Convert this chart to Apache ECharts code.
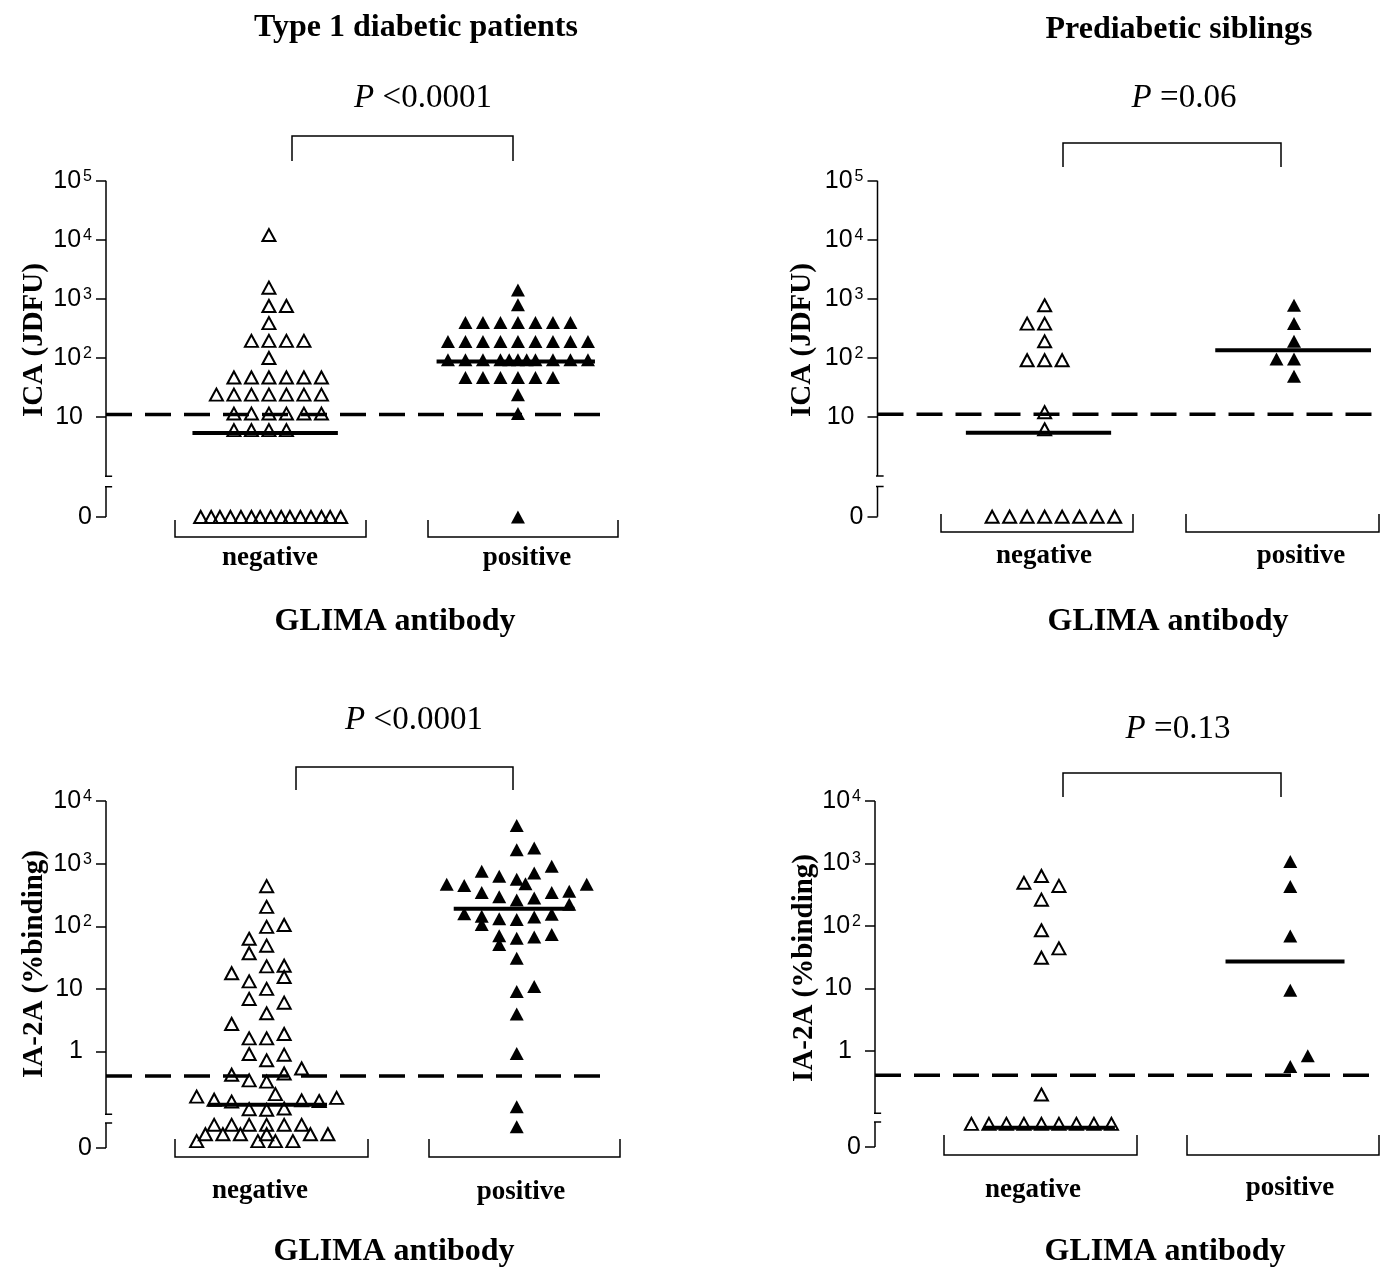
<!DOCTYPE html>
<html>
<head>
<meta charset="utf-8">
<script src="https://cdn.jsdelivr.net/npm/echarts@6/dist/echarts.min.js"></script>
<style>
  html, body { margin: 0; padding: 0; background: #fff; }
  #chart { width: 1381px; height: 1268px; }
</style>
</head>
<body>
<div id="chart"></div>
<script>
// y values are in axis units (log10 of the value); the "0" row sits below the axis break
// x values are column offsets inside each group (one column = one symbol width)
var ICA0 = -0.69, ICA_BRK = -0.18;
var IA0 = -1.54, IA_BRK = -1.14;

var icaTickValues = [ICA0, 1, 2, 3, 4, 5];
var icaTickLabels = ['0', '{p|10}', '{b|10}{s|2}', '{b|10}{s|3}', '{b|10}{s|4}', '{b|10}{s|5}'];
var ia2aTickValues = [IA0, 0, 1, 2, 3, 4];
var ia2aTickLabels = ['0', '{p|1}', '{p|10}', '{b|10}{s|2}', '{b|10}{s|3}', '{b|10}{s|4}'];

// Type 1 diabetic patients, ICA
var icaT1Neg = [
  [0,4.08],[0,3.19],[0,2.88],[1,2.88],[0,2.59],
  [-1,2.29],[0,2.29],[1,2.29],[2,2.29],[0,2.0],
  [-2,1.67],[-1,1.67],[0,1.67],[1,1.67],[2,1.67],[3,1.67],
  [-3,1.38],[-2,1.38],[-1,1.38],[0,1.38],[1,1.38],[2,1.38],[3,1.38],
  [-2,1.06],[-1,1.06],[0,1.06],[1,1.06],[2,1.06],[3,1.06],
  [-2,0.78],[-1,0.78],[0,0.78],[1,0.78],
  [-3.9,ICA0],[-3.3,ICA0],[-2.8,ICA0],[-2.2,ICA0],[-1.6,ICA0],[-1.0,ICA0],[-0.5,ICA0],[0.1,ICA0],
  [0.7,ICA0],[1.2,ICA0],[1.8,ICA0],[2.4,ICA0],[3.0,ICA0],[3.5,ICA0],[4.1,ICA0]
];
var icaT1Pos = [
  [0,3.15],[0,2.9],
  [-3,2.6],[-2,2.6],[-1,2.6],[0,2.6],[1,2.6],[2,2.6],[3,2.6],
  [-4,2.28],[-3,2.28],[-2,2.28],[-1,2.28],[0,2.28],[1,2.28],[2,2.28],[3,2.28],[4,2.28],
  [-4,1.97],[-3,1.97],[-2,1.97],[-1,1.97],[-0.5,1.97],[0,1.97],[0.5,1.97],[1,1.97],[2,1.97],[3,1.97],[4,1.97],
  [-3,1.67],[-2,1.67],[-1,1.67],[0,1.67],[1,1.67],[2,1.67],
  [0,1.38],[0,1.06],[0,ICA0]
];
// Prediabetic siblings, ICA
var icaSibNeg = [
  [0,2.89],[-1,2.58],[0,2.58],[0,2.28],[-1,1.96],[0,1.96],[1,1.96],[0,1.08],[0,0.79],
  [-3,ICA0],[-2,ICA0],[-1,ICA0],[0,ICA0],[1,ICA0],[2,ICA0],[3,ICA0],[4,ICA0]
];
var icaSibPos = [[0,2.89],[0,2.58],[0,2.28],[-1,1.98],[0,1.98],[0,1.69]];

// Type 1 diabetic patients, IA-2A
var ia2aT1Neg = [
  [0,2.64],[0,2.31],[0,1.99],[1,2.02],[-1,1.80],[0,1.69],[-1,1.57],[0,1.36],[1,1.37],
  [-2,1.25],[1,1.19],[-1,1.12],[0,1.0],[-1,0.84],[1,0.78],[0,0.61],[-2,0.44],
  [-1,0.21],[0,0.21],[1,0.28],[-1,-0.04],[0,-0.14],[1,-0.05],
  [-2,-0.37],[-1,-0.46],[0,-0.48],[1,-0.35],[2,-0.27],
  [-4,-0.72],[-3,-0.77],[-2,-0.80],[0.5,-0.68],[2,-0.78],[3,-0.79],[4,-0.74],
  [-1,-0.92],[0,-0.93],[1,-0.91],
  [-3,-1.17],[-2,-1.17],[-1,-1.17],[0,-1.17],[1,-1.17],[2,-1.17],
  [-3.5,-1.32],[-2.5,-1.32],[-1.5,-1.32],[0,-1.32],[2.5,-1.32],[3.5,-1.32],
  [-4,-1.43],[-0.5,-1.43],[0.5,-1.43],[1.5,-1.43],
  [-3,-1.55],[-2,-1.55],[-1,-1.55],[0,-1.55],[1,-1.55],[2,-1.55],[3,-1.55],[4,-1.55]
];
var ia2aT1Pos = [
  [0,3.61],[0,3.22],[1,3.25],[2,2.96],[-2,2.88],[-1,2.8],[0,2.75],[0.5,2.68],[1,2.85],
  [-4,2.67],[-3,2.65],[4,2.67],
  [-2,2.54],[-1,2.47],[0,2.42],[1,2.45],[2,2.54],[3,2.56],[3,2.35],
  [-3,2.2],[-2,2.16],[-2,2.03],[-1,2.12],[0,2.11],[1,2.15],[2,2.19],
  [-1,1.85],[0,1.81],[1,1.83],[2,1.87],[-1,1.71],
  [0,1.49],[0,0.96],[1,1.04],[0,0.6],[0,-0.03],[0,-0.88],[0,-1.2]
];
// Prediabetic siblings, IA-2A
var ia2aSibNeg = [
  [-1,2.69],[0,2.8],[1,2.64],[0,2.42],[0,1.93],[1,1.64],[0,1.49],[0,-0.7],
  [-4,-1.17],[-3,-1.17],[-2,-1.17],[-1,-1.17],[0,-1.17],[1,-1.17],[2,-1.17],[3,-1.17],[4,-1.17]
];
var ia2aSibPos = [[0,3.03],[0,2.63],[0,1.84],[0,0.97],[1,-0.08],[0,-0.25]];

// medians [negative, positive] and positivity cut-offs
var icaT1Median = [0.73, 1.94];
var icaSibMedian = [0.73, 2.13];
var ia2aT1Median = [-0.85, 2.28];
var ia2aSibMedian = [-1.23, 1.43];
var icaCutoff = 1.045;
var ia2aCutoff = -0.39;

var COL = 17.5; // px per column

var panels = [
  { grid: {left: 106, top: 180.7, width: 525, height: 336.3}, yMin: ICA0, yMax: 5, brk: ICA_BRK, low: 0,
    ticks: icaTickValues, labels: icaTickLabels, neg: icaT1Neg, pos: icaT1Pos, negC: 9.31, posC: 23.54,
    median: icaT1Median, negSpan: [-4.37, 3.94], posSpan: [-4.65, 4.4], cutoff: icaCutoff, cutEnd: 28.6 },
  { grid: {left: 877.5, top: 180.7, width: 502, height: 336}, yMin: ICA0, yMax: 5, brk: ICA_BRK, low: 0,
    ticks: icaTickValues, labels: icaTickLabels, neg: icaSibNeg, pos: icaSibPos, negC: 9.55, posC: 23.8,
    median: icaSibMedian, negSpan: [-4.5, 3.8], posSpan: [-4.5, 4.4], cutoff: icaCutoff, cutEnd: 28.7 },
  { grid: {left: 106, top: 801, width: 525, height: 347}, yMin: IA0, yMax: 4, brk: IA_BRK, low: -1,
    ticks: ia2aTickValues, labels: ia2aTickLabels, neg: ia2aT1Neg, pos: ia2aT1Pos, negC: 9.18, posC: 23.47,
    median: ia2aT1Median, negSpan: [-3.35, 3.45], posSpan: [-3.6, 3.3], cutoff: ia2aCutoff, cutEnd: 28.3 },
  { grid: {left: 875, top: 801, width: 502, height: 346}, yMin: IA0, yMax: 4, brk: IA_BRK, low: -1,
    ticks: ia2aTickValues, labels: ia2aTickLabels, neg: ia2aSibNeg, pos: ia2aSibPos, negC: 9.51, posC: 23.73,
    median: ia2aSibMedian, negSpan: [-3.3, 4.2], posSpan: [-3.7, 3.1], cutoff: ia2aCutoff, cutEnd: 28.5 }
];

var chartDom = document.getElementById('chart');
var myChart = echarts.init(chartDom);

var grids = [], xAxes = [], yAxes = [], series = [];

function seg(i, pts, width, type, z) {
  return {
    type: 'line', xAxisIndex: i, yAxisIndex: i, data: pts, symbol: 'none', silent: true, clip: false,
    lineStyle: {color: '#000', width: width, type: type || 'solid'}, z: z || 3
  };
}

panels.forEach(function (p, i) {
  grids.push(p.grid);
  xAxes.push({type: 'value', gridIndex: i, min: 0, max: p.grid.width / COL, show: false});
  yAxes.push({
    type: 'value', gridIndex: i, min: p.yMin, max: p.yMax,
    axisLine: {show: false},
    splitLine: {show: false},
    axisTick: {show: true, customValues: p.ticks, length: 10, lineStyle: {color: '#000', width: 1.5}},
    axisLabel: {
      customValues: p.ticks, margin: 14, color: '#000', fontSize: 25, fontFamily: 'Liberation Sans',
      formatter: function (v) {
        for (var k = 0; k < p.ticks.length; k++) {
          if (Math.abs(p.ticks[k] - v) < 1e-6) return p.labels[k];
        }
        return '';
      },
      rich: {
        b: {fontSize: 25, fontFamily: 'Liberation Sans', color: '#000'},
        p: {fontSize: 25, fontFamily: 'Liberation Sans', color: '#000', padding: [0, 9, 0, 0]},
        s: {fontSize: 16, fontFamily: 'Liberation Sans', color: '#000', verticalAlign: 'top', padding: [0, 0, 0, 2]}
      }
    }
  });

  // scatter groups
  series.push({
    type: 'scatter', xAxisIndex: i, yAxisIndex: i, symbol: 'triangle', symbolSize: [13, 12], silent: true,
    itemStyle: {color: 'rgba(0,0,0,0)', borderColor: '#000', borderWidth: 2, opacity: 1},
    data: p.neg.map(function (d) { return [p.negC + d[0], d[1]]; }), z: 2
  });
  series.push({
    type: 'scatter', xAxisIndex: i, yAxisIndex: i, symbol: 'triangle', symbolSize: [14, 13], silent: true,
    itemStyle: {color: '#000', opacity: 1},
    data: p.pos.map(function (d) { return [p.posC + d[0], d[1]]; }), z: 2
  });

  // broken y axis line with caps
  series.push(seg(i, [[0, p.yMax], [0, p.low]], 1.5));
  series.push(seg(i, [[0, p.brk], [0, p.yMin]], 1.5));
  series.push(seg(i, [[-0.3, p.low], [0.35, p.low]], 1.5));
  series.push(seg(i, [[-0.3, p.brk], [0.35, p.brk]], 1.5));

  // cut-off and medians
  series.push(seg(i, [[0, p.cutoff], [p.cutEnd, p.cutoff]], 3.5, [26, 13], 4));
  series.push(seg(i, [[p.negC + p.negSpan[0], p.median[0]], [p.negC + p.negSpan[1], p.median[0]]], 4, 'solid', 4));
  series.push(seg(i, [[p.posC + p.posSpan[0], p.median[1]], [p.posC + p.posSpan[1], p.median[1]]], 4, 'solid', 4));
});

// ---- annotations ----
var SERIF = '"Liberation Serif", "Times New Roman", serif';
function txt(x, y, text, size, bold, rot) {
  return {
    type: 'text', x: x, y: y, rotation: rot || 0, silent: true,
    style: {
      text: text, fontSize: size, fontWeight: bold ? 'bold' : 'normal', fontFamily: SERIF, fill: '#000',
      align: 'center', verticalAlign: 'middle', textAlign: 'center', textVerticalAlign: 'middle'
    }
  };
}
function ptxt(x, y, text) {
  return {
    type: 'text', x: x, y: y, silent: true,
    style: {
      text: '{i|P} ' + text, fontSize: 33, fontFamily: SERIF, fill: '#000',
      align: 'center', verticalAlign: 'middle', textAlign: 'center', textVerticalAlign: 'middle',
      rich: {i: {fontSize: 33, fontFamily: SERIF, fontStyle: 'italic', fill: '#000'}}
    }
  };
}
function bracket(x1, x2, yTop, yBot, legsUp) {
  var pts = legsUp
    ? [[x1, yTop], [x1, yBot], [x2, yBot], [x2, yTop]]
    : [[x1, yBot], [x1, yTop], [x2, yTop], [x2, yBot]];
  return {type: 'polyline', silent: true, shape: {points: pts}, style: {stroke: '#000', lineWidth: 1.5, fill: null}};
}

var graphics = [
  txt(416, 28, 'Type 1 diabetic patients', 32, true),
  txt(1179, 30, 'Prediabetic siblings', 32, true),
  ptxt(423, 98, '<0.0001'),
  ptxt(1184, 98, '=0.06'),
  ptxt(414, 720, '<0.0001'),
  ptxt(1178, 729, '=0.13'),
  bracket(292, 513, 136, 161, false),
  bracket(1063, 1281, 143, 167, false),
  bracket(296, 513, 767, 790, false),
  bracket(1063, 1281, 773, 797, false),
  bracket(175, 366, 520, 537, true),
  bracket(428, 618, 520, 537, true),
  bracket(941, 1133, 514, 532, true),
  bracket(1186, 1379, 514, 532, true),
  bracket(175, 368, 1139, 1157, true),
  bracket(429, 620, 1139, 1157, true),
  bracket(944, 1137, 1135, 1155, true),
  bracket(1187, 1379, 1135, 1155, true),
  txt(270, 558, 'negative', 27, true),
  txt(527, 558, 'positive', 27, true),
  txt(1044, 556, 'negative', 27, true),
  txt(1301, 556, 'positive', 27, true),
  txt(260, 1191, 'negative', 27, true),
  txt(521, 1192, 'positive', 27, true),
  txt(1033, 1190, 'negative', 27, true),
  txt(1290, 1188, 'positive', 27, true),
  txt(395, 622, 'GLIMA antibody', 32, true),
  txt(1168, 622, 'GLIMA antibody', 32, true),
  txt(394, 1252, 'GLIMA antibody', 32, true),
  txt(1165, 1252, 'GLIMA antibody', 32, true),
  txt(35, 340, 'ICA (JDFU)', 29, true, Math.PI / 2),
  txt(803, 340, 'ICA (JDFU)', 29, true, Math.PI / 2),
  txt(35, 964, 'IA-2A (%binding)', 29, true, Math.PI / 2),
  txt(805, 968, 'IA-2A (%binding)', 29, true, Math.PI / 2)
];

var option = {
  animation: false,
  backgroundColor: '#fff',
  grid: grids,
  xAxis: xAxes,
  yAxis: yAxes,
  series: series,
  graphic: {elements: graphics}
};
option && myChart.setOption(option);
</script>
</body>
</html>
